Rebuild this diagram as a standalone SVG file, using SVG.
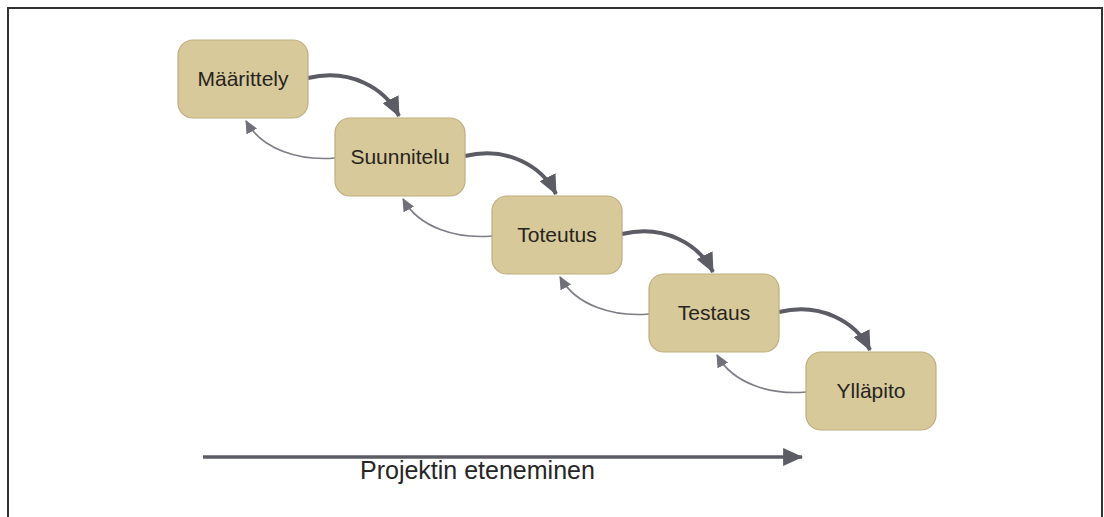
<svg xmlns="http://www.w3.org/2000/svg" width="1104" height="517" viewBox="0 0 1104 517">
<defs>
<style>
.node rect{fill:#d8c99a;stroke:#bfae7e;stroke-width:1.2}
.node text{font-family:"Liberation Sans",Arial,sans-serif;font-size:21px;fill:#262420;text-anchor:middle}
.fwd{fill:none;stroke:#5b5c64;stroke-width:4}
.back{fill:none;stroke:#7c7d86;stroke-width:1.6}
.axis{fill:none;stroke:#5b5c64;stroke-width:3.5}
.lbl{font-family:"Liberation Sans",Arial,sans-serif;font-size:25px;fill:#262626}
</style>
<marker id="hf" markerUnits="userSpaceOnUse" markerWidth="20" markerHeight="18" refX="17" refY="8" orient="auto" viewBox="0 0 18 16">
<path d="M0,0 L18,8 L0,16 Z" fill="#5b5c64"/>
</marker>
<marker id="hb" markerUnits="userSpaceOnUse" markerWidth="14" markerHeight="14" refX="12" refY="6" orient="auto" viewBox="0 0 14 12">
<path d="M0,0 L13,6 L0,12 Z" fill="#6f7079"/>
</marker>
<marker id="ha" markerUnits="userSpaceOnUse" markerWidth="20" markerHeight="18" refX="17" refY="8" orient="auto" viewBox="0 0 18 16">
<path d="M0,0 L18,8 L0,16 Z" fill="#5b5c64"/>
</marker>
</defs>
<rect x="0" y="0" width="1104" height="517" fill="#ffffff"/>
<path d="M8,517 V8 H1102 V517" fill="none" stroke="#333" stroke-width="2"/>
<g id="connectors">
<path class="fwd" d="M308,78 C350,68 385,88 399,116" marker-end="url(#hf)"/>
<path class="fwd" d="M465,156 C507,146 542,166 556,194" marker-end="url(#hf)"/>
<path class="fwd" d="M622,234 C664,224 699,244 713,272" marker-end="url(#hf)"/>
<path class="fwd" d="M779,312 C821,302 856,322 870,350" marker-end="url(#hf)"/>
<path class="back" d="M335,158 C300,161 262,150 246,121" marker-end="url(#hb)"/>
<path class="back" d="M492,236 C457,239 419,228 403,199" marker-end="url(#hb)"/>
<path class="back" d="M649,314 C614,317 576,306 560,277" marker-end="url(#hb)"/>
<path class="back" d="M806,392 C771,395 733,384 717,355" marker-end="url(#hb)"/>
<path class="axis" d="M203,457 H802" marker-end="url(#ha)"/>
</g>
<g id="n1" class="node"><rect x="178" y="40" width="130" height="78" rx="15"/><text x="243" y="86">Määrittely</text></g>
<g id="n2" class="node"><rect x="335" y="118" width="130" height="78" rx="15"/><text x="400" y="164">Suunnitelu</text></g>
<g id="n3" class="node"><rect x="492" y="196" width="130" height="78" rx="15"/><text x="557" y="242">Toteutus</text></g>
<g id="n4" class="node"><rect x="649" y="274" width="130" height="78" rx="15"/><text x="714" y="320">Testaus</text></g>
<g id="n5" class="node"><rect x="806" y="352" width="130" height="78" rx="15"/><text x="871" y="398">Ylläpito</text></g>
<text class="lbl" x="360" y="479">Projektin eteneminen</text>
</svg>
